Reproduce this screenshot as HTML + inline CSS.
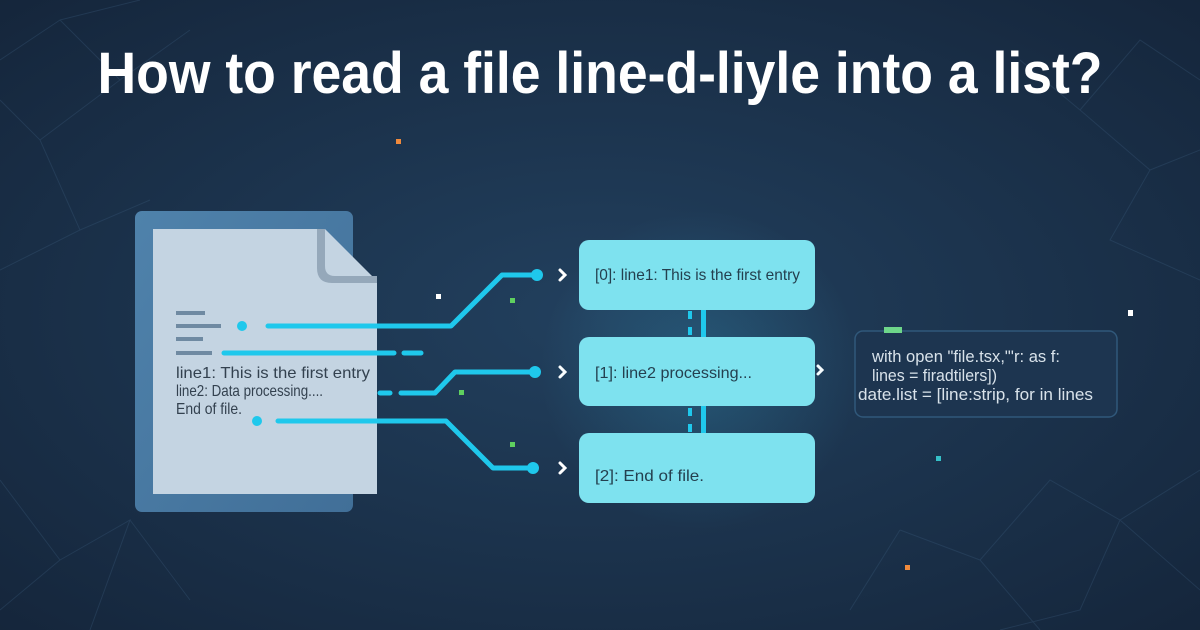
<!DOCTYPE html>
<html><head><meta charset="utf-8"><style>
html,body{margin:0;padding:0;width:1200px;height:630px;overflow:hidden;background:#1b3048}
svg{display:block}
text{font-family:"Liberation Sans",sans-serif}
</style></head><body>
<svg width="1200" height="630" viewBox="0 0 1200 630" xmlns="http://www.w3.org/2000/svg">
<defs>
<radialGradient id="bg" cx="0.5" cy="0.5" r="0.75">
<stop offset="0" stop-color="#22405e"/><stop offset="1" stop-color="#142439"/>
</radialGradient>
<radialGradient id="glow" cx="0.5" cy="0.5" r="0.5">
<stop offset="0" stop-color="#3fc8f0" stop-opacity="0.2"/><stop offset="1" stop-color="#3fc8f0" stop-opacity="0"/>
</radialGradient>
<linearGradient id="panel" x1="0" y1="0" x2="1" y2="1">
<stop offset="0" stop-color="#4f82ab"/><stop offset="1" stop-color="#416f98"/>
</linearGradient>
</defs>
<rect width="1200" height="630" fill="url(#bg)"/>
<g stroke="#3a5a78" stroke-width="1" opacity="0.35" fill="none">
<path d="M0 60 L60 20 L120 80 L40 140 L0 100 M60 20 L140 0 M120 80 L190 30 M40 140 L80 230 L0 270 M80 230 L150 200"/>
<path d="M1200 80 L1140 40 L1080 110 L1150 170 L1200 150 M1080 110 L1020 60 M1150 170 L1110 240 L1200 280"/>
<path d="M0 480 L60 560 L130 520 L90 630 M60 560 L0 610 M130 520 L190 600"/>
<path d="M1200 470 L1120 520 L1050 480 L980 560 L900 530 M1120 520 L1080 610 L1000 630 M980 560 L1040 630 M1120 520 L1200 590 M900 530 L850 610"/>
</g>
<text x="600" y="93" text-anchor="middle" font-size="58" font-weight="bold" fill="#ffffff" textLength="1005" lengthAdjust="spacingAndGlyphs">How to read a file line-d-liyle into a list?</text>
<rect x="396" y="139" width="5" height="5" fill="#f08a3c"/>
<rect x="436" y="294" width="5" height="5" fill="#ffffff"/>
<rect x="510" y="298" width="5" height="5" fill="#5fd05f"/>
<rect x="459" y="390" width="5" height="5" fill="#5fd05f"/>
<rect x="510" y="442" width="5" height="5" fill="#5fd05f"/>
<rect x="1128" y="310" width="5" height="6" fill="#ffffff"/>
<rect x="936" y="456" width="5" height="5" fill="#35c0c8"/>
<rect x="905" y="565" width="5" height="5" fill="#f08a3c"/>
<rect x="135" y="211" width="218" height="301" rx="7" fill="url(#panel)"/>
<path d="M153 229 L325 229 L377 281 L377 494 L153 494 Z" fill="#c4d4e2"/>
<path d="M317 229 L317 268 Q317 283 332 283 L377 283 L377 276 L335 276 Q325 276 325 266 L325 229 Z" fill="#95a8ba"/>
<g fill="#6f8aa2">
<rect x="176" y="311" width="29" height="4"/><rect x="176" y="324" width="45" height="4"/>
<rect x="176" y="337" width="27" height="4"/><rect x="176" y="351" width="36" height="4"/>
</g>
<g font-size="16" fill="#33414f">
<text x="176" y="378" textLength="194" lengthAdjust="spacingAndGlyphs">line1: This is the first entry</text>
<text x="176" y="396" textLength="147" lengthAdjust="spacingAndGlyphs">line2: Data processing....</text>
<text x="176" y="414" textLength="66" lengthAdjust="spacingAndGlyphs">End of file.</text>
</g>
<g stroke="#1fc8ec" stroke-width="5" fill="none" stroke-linecap="round" stroke-linejoin="round">
<path d="M268 326 L451 326 L502 275 L537 275"/>
<path d="M224 353 L394 353"/><path d="M404 353 L421 353"/>
<path d="M380 393 L390 393"/><path d="M401 393 L435 393 L455 372 L535 372"/>
<path d="M278 421 L446 421 L493 468 L533 468"/>
</g>
<g fill="#1fc8ec">
<circle cx="242" cy="326" r="5"/><circle cx="257" cy="421" r="5"/>
<circle cx="537" cy="275" r="6"/><circle cx="535" cy="372" r="6"/><circle cx="533" cy="468" r="6"/>
</g>
<g stroke="#ffffff" stroke-width="3" fill="none" stroke-linecap="round">
<path d="M560 270 L565 275 L560 280"/><path d="M560 367 L565 372 L560 377"/><path d="M560 463 L565 468 L560 473"/>
<path d="M818 366 L822 370 L818 374"/>
</g>
<ellipse cx="700" cy="370" rx="160" ry="160" fill="url(#glow)"/>
<g fill="#1fc8ec">
<rect x="701" y="309" width="5" height="29"/><rect x="688" y="311" width="4" height="8"/><rect x="688" y="327" width="4" height="8"/>
<rect x="701" y="406" width="5" height="28"/><rect x="688" y="408" width="4" height="8"/><rect x="688" y="424" width="4" height="8"/>
</g>
<g fill="#7ee2ef">
<rect x="579" y="240" width="236" height="70" rx="10"/>
<rect x="579" y="337" width="236" height="69" rx="10"/>
<rect x="579" y="433" width="236" height="70" rx="10"/>
</g>
<g font-size="16" fill="#24404f">
<text x="595" y="280" textLength="205" lengthAdjust="spacingAndGlyphs">[0]:  line1: This is the first entry</text>
<text x="595" y="378" textLength="157" lengthAdjust="spacingAndGlyphs">[1]:  line2 processing...</text>
<text x="595" y="481" textLength="109" lengthAdjust="spacingAndGlyphs">[2]:   End of file.</text>
</g>
<rect x="855" y="331" width="262" height="86" rx="8" fill="#1d3550" stroke="#30587a" stroke-width="1.5"/>
<rect x="884" y="327" width="18" height="6" fill="#6ed68a"/>
<g font-size="17" fill="#d8e2ea">
<text x="872" y="362" textLength="188" lengthAdjust="spacingAndGlyphs">with open "file.tsx,"'r: as f:</text>
<text x="872" y="381" textLength="125" lengthAdjust="spacingAndGlyphs">lines = firadtilers])</text>
<text x="858" y="400" textLength="235" lengthAdjust="spacingAndGlyphs">date.list = [line:strip, for in lines</text>
</g>
</svg>
</body></html>
